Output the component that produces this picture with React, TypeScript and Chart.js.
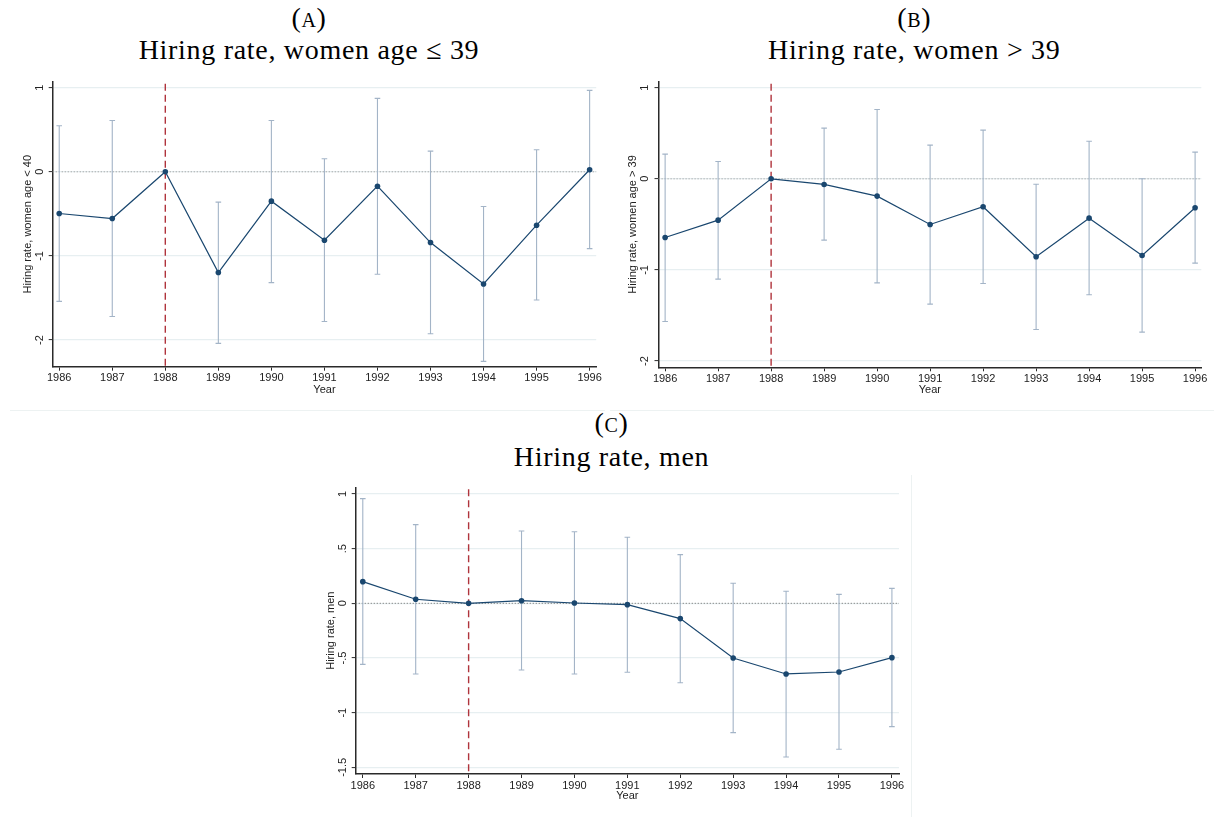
import React, { useEffect, useRef } from "react";
import { Chart, registerables } from "chart.js";

Chart.register(...registerables);

// ---------- data ----------
const years = [1986, 1987, 1988, 1989, 1990, 1991, 1992, 1993, 1994, 1995, 1996];

const youngCoef = [-0.496, -0.556, 0, -1.198, -0.349, -0.813, -0.171, -0.841, -1.333, -0.635, 0.024];
const youngLo = [-1.54, -1.72, null, -2.04, -1.317, -1.78, -1.218, -1.925, -2.254, -1.524, -0.913];
const youngHi = [0.548, 0.61, null, -0.361, 0.61, 0.155, 0.873, 0.246, -0.413, 0.262, 0.968];

const oldCoef = [-0.644, -0.454, 0, -0.062, -0.19, -0.501, -0.307, -0.856, -0.432, -0.842, -0.318];
const oldLo = [-1.566, -1.101, null, -0.673, -1.142, -1.376, -1.149, -1.654, -1.273, -1.683, -0.926];
const oldHi = [0.271, 0.19, null, 0.556, 0.761, 0.37, 0.534, -0.059, 0.413, 0, 0.293];

const menCoef = [0.198, 0.037, 0, 0.024, 0.003, -0.012, -0.14, -0.5, -0.646, -0.628, -0.497];
const menLo = [-0.558, -0.646, null, -0.61, -0.646, -0.631, -0.726, -1.183, -1.405, -1.335, -1.128];
const menHi = [0.957, 0.72, null, 0.662, 0.655, 0.604, 0.445, 0.183, 0.11, 0.082, 0.137];

const womenTicks = [-2, -1, 0, 1];
const menTicks = [-1.5, -1, -0.5, 0, 0.5, 1];
const referenceYear = 1988;

// ---------- styles ----------
const NAVY = "#1a476f";
const CI = "#a3b4c7";
const RED = "#b0343c";
const GRID = "#e7eff1";
const AXIS = "#2a2a2a";
const SANS = "'Liberation Sans', Arial, sans-serif";
const SERIF = "'Liberation Serif', 'Times New Roman', serif";

const fmt = (v: number) => String(Math.round(v * 100) / 100).replace(/^(-?)0\./, "$1.");

const overlayPlugin = {
  id: "overlay",
  beforeDatasetsDraw(chart: any) {
    const cfg = chart.options.plugins.overlay;
    const { ctx, chartArea } = chart;
    const xs = chart.scales.x;
    const ys = chart.scales.y;
    ctx.save();
    // zero line
    const y0 = ys.getPixelForValue(0);
    ctx.strokeStyle = cfg.zeroColor;
    ctx.lineWidth = 1;
    ctx.setLineDash([1.2, 1.8]);
    ctx.beginPath();
    ctx.moveTo(chartArea.left, y0);
    ctx.lineTo(chartArea.right, y0);
    ctx.stroke();
    // reference year dashed line
    const xr = xs.getPixelForValue(cfg.refYear);
    ctx.strokeStyle = RED;
    ctx.lineWidth = 1.4;
    ctx.setLineDash([7, 4]);
    ctx.beginPath();
    ctx.moveTo(xr, chartArea.top + 2);
    ctx.lineTo(xr, chartArea.bottom);
    ctx.stroke();
    ctx.setLineDash([]);
    // error bars
    ctx.strokeStyle = CI;
    ctx.lineWidth = 1.1;
    cfg.years.forEach((yr: number, i: number) => {
      const lo = cfg.lo[i];
      const hi = cfg.hi[i];
      if (lo == null || hi == null) return;
      const x = xs.getPixelForValue(yr);
      const yl = ys.getPixelForValue(lo);
      const yh = ys.getPixelForValue(hi);
      ctx.beginPath();
      ctx.moveTo(x, yl);
      ctx.lineTo(x, yh);
      ctx.moveTo(x - 2.8, yl);
      ctx.lineTo(x + 2.8, yl);
      ctx.moveTo(x - 2.8, yh);
      ctx.lineTo(x + 2.8, yh);
      ctx.stroke();
    });
    ctx.restore();
  },
};

type PanelProps = {
  left: number;
  top: number;
  width: number;
  height: number;
  coef: number[];
  lo: (number | null)[];
  hi: (number | null)[];
  yTicks: number[];
  yMin: number;
  yMax: number;
  xMin: number;
  xMax: number;
  yTitle: string;
  padRight: number;
  padTop: number;
  yWidth: number;
  xHeight: number;
  yTitlePad: number;
  yTickPad: number;
  xTitlePad: number;
  zeroColor: string;
};

function Panel(p: PanelProps) {
  const ref = useRef<HTMLCanvasElement | null>(null);
  useEffect(() => {
    if (!ref.current) return;
    const chart = new Chart(ref.current, {
      type: "line",
      data: {
        datasets: [
          {
            data: years.map((y, i) => ({ x: y, y: p.coef[i] })),
            borderColor: NAVY,
            backgroundColor: NAVY,
            borderWidth: 1.2,
            pointRadius: 2.8,
            pointBorderWidth: 0,
            pointBackgroundColor: NAVY,
            tension: 0,
          },
        ],
      },
      options: {
        animation: false,
        responsive: false,
        maintainAspectRatio: false,
        layout: { padding: { left: 0, right: p.padRight, top: p.padTop, bottom: 0 } },
        plugins: {
          legend: { display: false },
          tooltip: { enabled: false },
          overlay: { years, lo: p.lo, hi: p.hi, refYear: referenceYear, zeroColor: p.zeroColor },
        } as any,
        scales: {
          x: {
            type: "linear",
            min: p.xMin,
            max: p.xMax,
            afterBuildTicks: (s: any) => {
              s.ticks = years.map((v) => ({ value: v }));
            },
            afterFit: (s: any) => {
              s.height = p.xHeight;
            },
            ticks: {
              callback: (v: any) => String(v),
              font: { family: SANS, size: 11 },
              color: "#222",
              padding: 1,
              maxRotation: 0,
              autoSkip: false,
            },
            grid: { drawOnChartArea: false, drawTicks: true, tickLength: 4, tickColor: AXIS, tickWidth: 1 },
            border: { display: true, color: AXIS, width: 1.5 },
            title: {
              display: true,
              text: "Year",
              font: { family: SANS, size: 11 },
              color: "#222",
              padding: { top: 0, bottom: p.xTitlePad },
            },
          },
          y: {
            type: "linear",
            min: p.yMin,
            max: p.yMax,
            afterBuildTicks: (s: any) => {
              s.ticks = p.yTicks.map((v) => ({ value: v }));
            },
            afterFit: (s: any) => {
              s.width = p.yWidth;
            },
            ticks: {
              callback: (v: any) => fmt(Number(v)),
              font: { family: SANS, size: 11 },
              color: "#222",
              padding: p.yTickPad,
              minRotation: 90,
              maxRotation: 90,
              crossAlign: "center",
              autoSkip: false,
            },
            grid: { color: GRID, lineWidth: 1.2, drawTicks: true, tickLength: 4, tickColor: AXIS, tickWidth: 1 },
            border: { display: true, color: AXIS, width: 1.5 },
            title: {
              display: true,
              text: p.yTitle,
              font: { family: SANS, size: 11 },
              color: "#222",
              padding: { top: p.yTitlePad, bottom: 0 },
            },
          },
        },
      },
      plugins: [overlayPlugin],
    });
    return () => chart.destroy();
  }, []);
  return (
    <canvas
      ref={ref}
      width={p.width}
      height={p.height}
      style={{ position: "absolute", left: p.left, top: p.top, width: p.width, height: p.height }}
    />
  );
}

function Title(props: { cx: number; top1: number; top2: number; letter: string; text: string }) {
  const base: React.CSSProperties = {
    position: "absolute",
    left: props.cx - 300,
    width: 600,
    textAlign: "center",
    fontFamily: SERIF,
    fontSize: 28,
    letterSpacing: "0.7px",
    lineHeight: "32px",
    color: "#000",
    whiteSpace: "nowrap",
  };
  return (
    <>
      <div style={{ ...base, top: props.top1 }}>
        (<span style={{ fontVariantCaps: "all-small-caps" }}>{props.letter}</span>)
      </div>
      <div style={{ ...base, top: props.top2 }}>{props.text}</div>
    </>
  );
}

export default function App() {
  return (
    <div
      style={{
        position: "fixed",
        left: 0,
        top: 0,
        width: 1214,
        height: 817,
        background: "#fff",
        overflow: "hidden",
      }}
    >
      <Title cx={309} top1={2} top2={33.6} letter="A" text="Hiring rate, women age ≤ 39" />
      <Title cx={914.3} top1={2} top2={33.6} letter="B" text="Hiring rate, women > 39" />
      <Title cx={611.6} top1={407} top2={440.6} letter="C" text="Hiring rate, men" />
      <div style={{ position: "absolute", left: 10, top: 410, width: 595, height: 1, background: "#edf2f2" }} />
      <div style={{ position: "absolute", left: 610, top: 410, width: 604, height: 1, background: "#edf2f2" }} />
      <div style={{ position: "absolute", left: 911, top: 475, width: 1, height: 342, background: "#edf2f2" }} />
      <Panel
        left={0}
        top={70}
        width={606}
        height={330}
        coef={youngCoef}
        lo={youngLo}
        hi={youngHi}
        yTicks={womenTicks}
        yMin={-2.317}
        yMax={1.071}
        xMin={1985.877}
        xMax={1996.124}
        yTitle="Hiring rate, women age < 40"
        padRight={9.8}
        padTop={11.7}
        yWidth={52.7}
        xHeight={33.3}
        yTitlePad={21.7}
        yTickPad={3.8}
        xTitlePad={3.4}
        zeroColor="#a3a3a3"
      />
      <Panel
        left={607}
        top={70}
        width={606}
        height={330}
        coef={oldCoef}
        lo={oldLo}
        hi={oldHi}
        yTicks={womenTicks}
        yMin={-2.069}
        yMax={1.066}
        xMin={1985.875}
        xMax={1996.117}
        yTitle="Hiring rate, women age > 39"
        padRight={11.7}
        padTop={11.7}
        yWidth={51.5}
        xHeight={32.7}
        yTitlePad={19.7}
        yTickPad={4.6}
        xTitlePad={3.4}
        zeroColor="#a3a3a3"
      />
      <Panel
        left={300}
        top={475}
        width={610}
        height={332}
        coef={menCoef}
        lo={menLo}
        hi={menHi}
        yTicks={menTicks}
        yMin={-1.561}
        yMax={1.061}
        xMin={1985.866}
        xMax={1996.134}
        yTitle="Hiring rate, men"
        padRight={11}
        padTop={12.3}
        yWidth={55.7}
        xHeight={33}
        yTitlePad={24.4}
        yTickPad={-0.5}
        xTitlePad={4.4}
        zeroColor="#7f7f7f"
      />
    </div>
  );
}
